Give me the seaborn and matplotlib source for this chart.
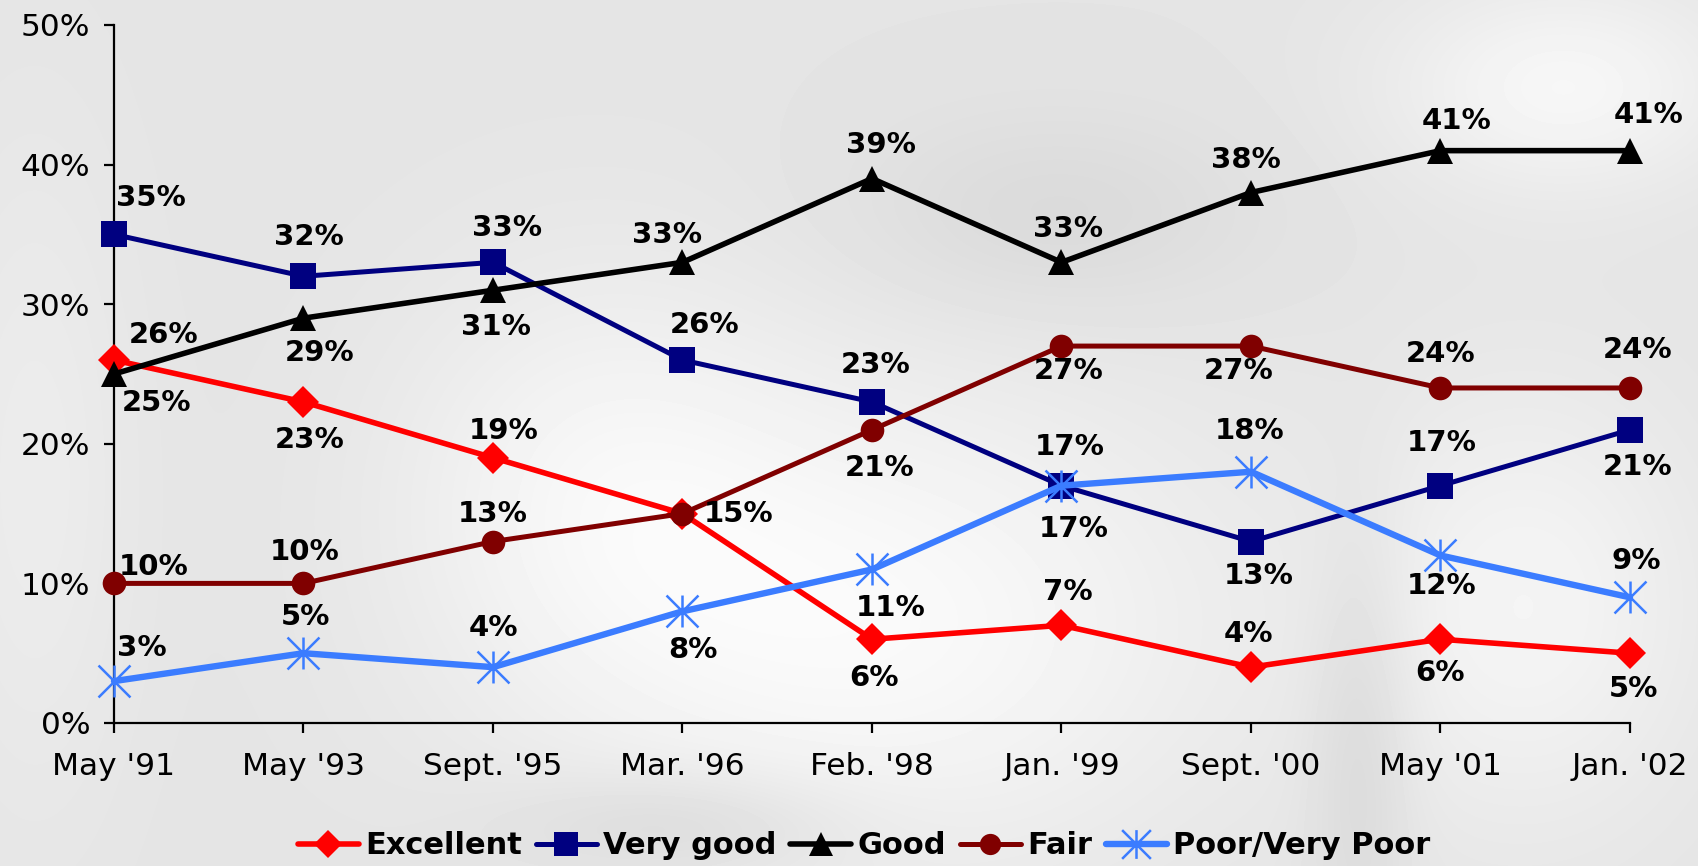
import numpy as np
import pandas as pd
import matplotlib
matplotlib.use("Agg")
import matplotlib.pyplot as plt
import seaborn as sns
from matplotlib.path import Path
from matplotlib.lines import Line2D

# ---------------- data ----------------
dates = ["May '91", "May '93", "Sept. '95", "Mar. '96", "Feb. '98",
         "Jan. '99", "Sept. '00", "May '01", "Jan. '02"]
excellent = [26, 23, 19, 15, 6, 7, 4, 6, 5]
very_good = [35, 32, 33, 26, 23, 17, 13, 17, 21]
good = [25, 29, 31, 33, 39, 33, 38, 41, 41]
fair = [10, 10, 13, 15, 21, 27, 27, 24, 24]
poor = [3, 5, 4, 8, 11, 17, 18, 12, 9]
series_names = ["Excellent", "Very good", "Good", "Fair", "Poor/Very Poor"]
y_ticks = [0, 10, 20, 30, 40, 50]

values = [excellent, very_good, good, fair, poor]

# ---------------- styles ----------------
star = Path([(0, -1), (0, 1), (-1, -1), (1, 1), (-1, 1), (1, -1)],
            [Path.MOVETO, Path.LINETO] * 3)
styles = {
    "Excellent": dict(color="#ff0000", marker="D", ms=16, lw=4.0),
    "Very good": dict(color="#000080", marker="s", ms=19, lw=3.6),
    "Good": dict(color="#000000", marker="^", ms=19, lw=4.0),
    "Fair": dict(color="#800000", marker="o", ms=17, lw=3.6),
    "Poor/Very Poor": dict(color="#3b7cff", marker=star, ms=23, lw=4.6),
}

# label offsets (pixels in the shrunk reference, x right / y down)
offsets = {
    "Excellent": [(46, -23), (6, 35), (10, -25), (52, 0), (2, 36), (6, -31), (-2, -31), (0, 31), (3, 33)],
    "Very good": [(34, -34), (5, -36), (13, -32), (20, -32), (3, -34), (8, -36), (7, 32), (1, -39), (7, 34)],
    "Good": [(39, 27), (15, 32), (3, 34), (-14, -25), (8, -31), (6, -31), (-5, -30), (15, -27), (17, -33)],
    "Fair": [(37, -15), (1, -29), (0, -25), None, (7, 35), (7, 23), (-11, 23), (0, -31), (7, -35)],
    "Poor/Very Poor": [(26, -31), (2, -33), (0, -36), (10, 36), (17, 36), (11, 40), (-1, -38), (1, 28), (6, -34)],
}

sns.set_style("ticks")
plt.rcParams["font.family"] = ["DejaVu Sans"]
plt.rcParams["text.color"] = "black"

W, H = 1699, 866
fig = plt.figure(figsize=(W / 100, H / 100), dpi=100)

# ---------- soft grey background ----------
bg_ax = fig.add_axes([0, 0, 1, 1], zorder=-10)
yy, xx = np.mgrid[0:H, 0:W]
xn, yn = xx / W, yy / H
bg = np.full((H, W), 0.895)
def blob(cx, cy, sx, sy, amp):
    return amp * np.exp(-(((xn - cx) / sx) ** 2 + ((yn - cy) / sy) ** 2))
bg += blob(0.52, 0.72, 0.20, 0.28, 0.08)
bg += blob(0.35, 0.55, 0.12, 0.25, 0.05)
bg += blob(0.92, 0.10, 0.10, 0.12, 0.07)
bg += blob(0.90, 0.70, 0.10, 0.25, 0.06)
bg += blob(0.02, 0.55, 0.06, 0.40, 0.03)
bg -= blob(0.80, 0.85, 0.03, 0.25, 0.05)
bg -= blob(0.40, 0.95, 0.10, 0.06, 0.05)
bg -= blob(0.62, 0.25, 0.12, 0.12, 0.04)
bg = np.clip(bg, 0, 1)
bg_ax.imshow(bg, cmap="gray", vmin=0, vmax=1, aspect="auto", interpolation="bilinear")
bg_ax.axis("off")

# ---------- main axes ----------
left, right = 114 / W, 1630 / W
bottom, top = 1 - 723 / H, 1 - 25 / H
ax = fig.add_axes([left, bottom, right - left, top - bottom])
ax.set_facecolor("none")

x_idx = list(range(len(dates)))
scale = 1699 / 1568 * 0.72  # shrunk px -> points

handles = []
for name, vals in zip(series_names, values):
    st = styles[name]
    df = pd.DataFrame({"x": x_idx, "y": vals})
    is_star = name == "Poor/Very Poor"
    sns.lineplot(data=df, x="x", y="y", ax=ax, color=st["color"], lw=st["lw"],
                 marker=st["marker"], markersize=st["ms"],
                 markerfacecolor="none" if is_star else st["color"],
                 markeredgecolor=st["color"], markeredgewidth=1.8 if is_star else 0,
                 clip_on=False, zorder=3, legend=False)
    handles.append(Line2D([0], [0], color=st["color"], lw=st["lw"], marker=st["marker"],
                          markersize=st["ms"] * 0.9,
                          markerfacecolor="none" if is_star else st["color"],
                          markeredgecolor=st["color"],
                          markeredgewidth=1.8 if is_star else 0, label=name))
    for xi, v, off in zip(x_idx, vals, offsets[name]):
        if off is None:
            continue
        ax.annotate(f"{v}%", (xi, v), xytext=(off[0] * scale, -off[1] * scale),
                    textcoords="offset points", ha="center", va="center",
                    fontsize=21, fontweight="bold", color="black", zorder=5)

ax.set_xlim(0, len(dates) - 1)
ax.set_ylim(0, 50)
ax.set_xticks(x_idx)
ax.set_xticklabels(dates)
ax.set_yticks(y_ticks)
ax.set_yticklabels([f"{t}%" for t in y_ticks])
ax.set_xlabel("")
ax.set_ylabel("")
for s in ["top", "right"]:
    ax.spines[s].set_visible(False)
for s in ["left", "bottom"]:
    ax.spines[s].set_linewidth(1.6)
    ax.spines[s].set_color("black")
ax.tick_params(axis="both", length=7, width=1.6, colors="black", labelcolor="black",
               labelsize=22.5)
ax.tick_params(axis="x", pad=14)
ax.tick_params(axis="y", pad=10)

leg = fig.legend(handles=handles, loc="center", bbox_to_anchor=(864 / W, 1 - 846 / H),
                 ncol=5, frameon=False, handlelength=2.0, handletextpad=0.2,
                 columnspacing=0.45, prop=dict(size=22, weight="bold"), numpoints=1)
for t in leg.get_texts():
    t.set_color("black")

fig.savefig("out.png", dpi=100)
